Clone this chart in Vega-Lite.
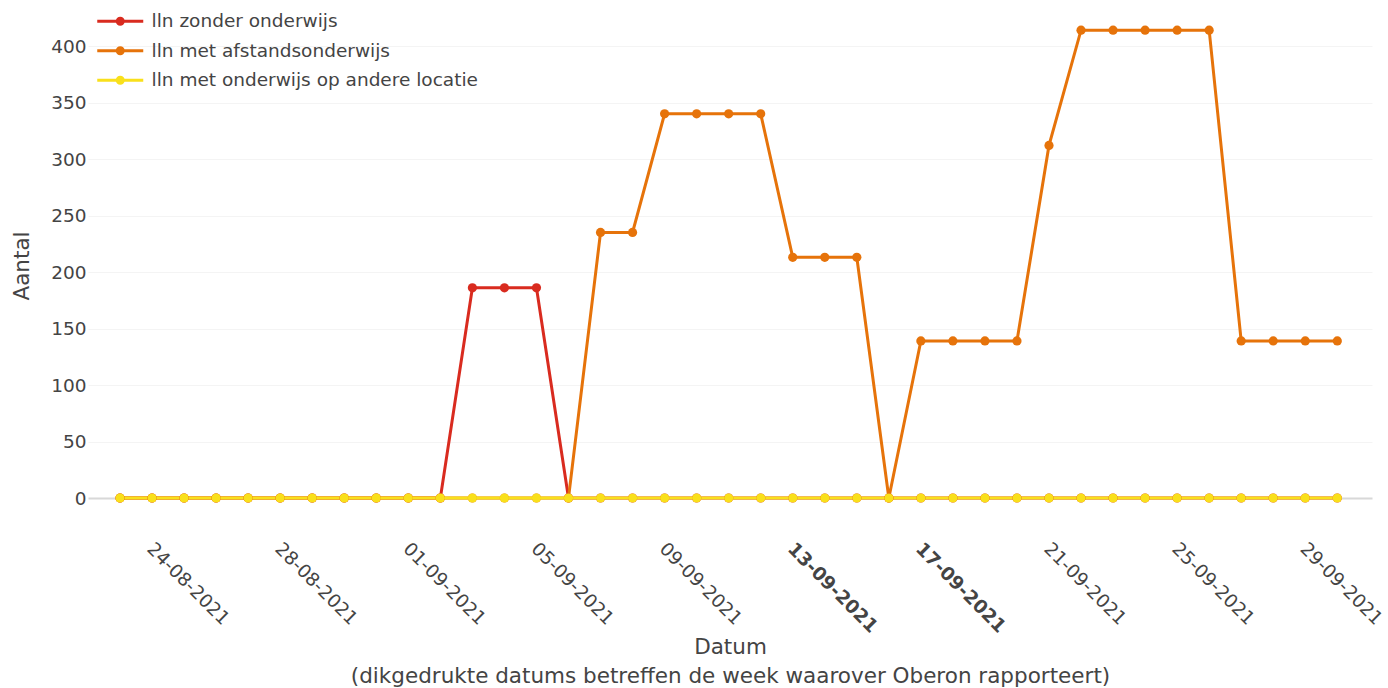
{
  "$schema": "https://vega.github.io/schema/vega-lite/v6.json",
  "width": 1284,
  "height": 511,
  "autosize": "none",
  "padding": {"left": 88, "top": 10, "right": 16, "bottom": 167},
  "background": "white",
  "config": {
    "font": "DejaVu Sans",
    "view": {"stroke": null},
    "axis": {"labelColor": "#444", "titleColor": "#444", "labelFontSize": 18.5, "titleFontSize": 21.5, "titleFontWeight": "normal"}
  },
  "data": {"values": [
    {"d":"2021-08-23","s":"lln zonder onderwijs","v":0},{"d":"2021-08-24","s":"lln zonder onderwijs","v":0},{"d":"2021-08-25","s":"lln zonder onderwijs","v":0},{"d":"2021-08-26","s":"lln zonder onderwijs","v":0},{"d":"2021-08-27","s":"lln zonder onderwijs","v":0},{"d":"2021-08-28","s":"lln zonder onderwijs","v":0},{"d":"2021-08-29","s":"lln zonder onderwijs","v":0},{"d":"2021-08-30","s":"lln zonder onderwijs","v":0},{"d":"2021-08-31","s":"lln zonder onderwijs","v":0},{"d":"2021-09-01","s":"lln zonder onderwijs","v":0},{"d":"2021-09-02","s":"lln zonder onderwijs","v":0},{"d":"2021-09-03","s":"lln zonder onderwijs","v":186},{"d":"2021-09-04","s":"lln zonder onderwijs","v":186},{"d":"2021-09-05","s":"lln zonder onderwijs","v":186},{"d":"2021-09-06","s":"lln zonder onderwijs","v":0},{"d":"2021-09-07","s":"lln zonder onderwijs","v":0},{"d":"2021-09-08","s":"lln zonder onderwijs","v":0},{"d":"2021-09-09","s":"lln zonder onderwijs","v":0},{"d":"2021-09-10","s":"lln zonder onderwijs","v":0},{"d":"2021-09-11","s":"lln zonder onderwijs","v":0},{"d":"2021-09-12","s":"lln zonder onderwijs","v":0},{"d":"2021-09-13","s":"lln zonder onderwijs","v":0},{"d":"2021-09-14","s":"lln zonder onderwijs","v":0},{"d":"2021-09-15","s":"lln zonder onderwijs","v":0},{"d":"2021-09-16","s":"lln zonder onderwijs","v":0},{"d":"2021-09-17","s":"lln zonder onderwijs","v":0},{"d":"2021-09-18","s":"lln zonder onderwijs","v":0},{"d":"2021-09-19","s":"lln zonder onderwijs","v":0},{"d":"2021-09-20","s":"lln zonder onderwijs","v":0},{"d":"2021-09-21","s":"lln zonder onderwijs","v":0},{"d":"2021-09-22","s":"lln zonder onderwijs","v":0},{"d":"2021-09-23","s":"lln zonder onderwijs","v":0},{"d":"2021-09-24","s":"lln zonder onderwijs","v":0},{"d":"2021-09-25","s":"lln zonder onderwijs","v":0},{"d":"2021-09-26","s":"lln zonder onderwijs","v":0},{"d":"2021-09-27","s":"lln zonder onderwijs","v":0},{"d":"2021-09-28","s":"lln zonder onderwijs","v":0},{"d":"2021-09-29","s":"lln zonder onderwijs","v":0},{"d":"2021-09-30","s":"lln zonder onderwijs","v":0},
    {"d":"2021-08-23","s":"lln met afstandsonderwijs","v":0},{"d":"2021-08-24","s":"lln met afstandsonderwijs","v":0},{"d":"2021-08-25","s":"lln met afstandsonderwijs","v":0},{"d":"2021-08-26","s":"lln met afstandsonderwijs","v":0},{"d":"2021-08-27","s":"lln met afstandsonderwijs","v":0},{"d":"2021-08-28","s":"lln met afstandsonderwijs","v":0},{"d":"2021-08-29","s":"lln met afstandsonderwijs","v":0},{"d":"2021-08-30","s":"lln met afstandsonderwijs","v":0},{"d":"2021-08-31","s":"lln met afstandsonderwijs","v":0},{"d":"2021-09-01","s":"lln met afstandsonderwijs","v":0},{"d":"2021-09-02","s":"lln met afstandsonderwijs","v":0},{"d":"2021-09-03","s":"lln met afstandsonderwijs","v":0},{"d":"2021-09-04","s":"lln met afstandsonderwijs","v":0},{"d":"2021-09-05","s":"lln met afstandsonderwijs","v":0},{"d":"2021-09-06","s":"lln met afstandsonderwijs","v":0},{"d":"2021-09-07","s":"lln met afstandsonderwijs","v":235},{"d":"2021-09-08","s":"lln met afstandsonderwijs","v":235},{"d":"2021-09-09","s":"lln met afstandsonderwijs","v":340},{"d":"2021-09-10","s":"lln met afstandsonderwijs","v":340},{"d":"2021-09-11","s":"lln met afstandsonderwijs","v":340},{"d":"2021-09-12","s":"lln met afstandsonderwijs","v":340},{"d":"2021-09-13","s":"lln met afstandsonderwijs","v":213},{"d":"2021-09-14","s":"lln met afstandsonderwijs","v":213},{"d":"2021-09-15","s":"lln met afstandsonderwijs","v":213},{"d":"2021-09-16","s":"lln met afstandsonderwijs","v":0},{"d":"2021-09-17","s":"lln met afstandsonderwijs","v":139},{"d":"2021-09-18","s":"lln met afstandsonderwijs","v":139},{"d":"2021-09-19","s":"lln met afstandsonderwijs","v":139},{"d":"2021-09-20","s":"lln met afstandsonderwijs","v":139},{"d":"2021-09-21","s":"lln met afstandsonderwijs","v":312},{"d":"2021-09-22","s":"lln met afstandsonderwijs","v":414},{"d":"2021-09-23","s":"lln met afstandsonderwijs","v":414},{"d":"2021-09-24","s":"lln met afstandsonderwijs","v":414},{"d":"2021-09-25","s":"lln met afstandsonderwijs","v":414},{"d":"2021-09-26","s":"lln met afstandsonderwijs","v":414},{"d":"2021-09-27","s":"lln met afstandsonderwijs","v":139},{"d":"2021-09-28","s":"lln met afstandsonderwijs","v":139},{"d":"2021-09-29","s":"lln met afstandsonderwijs","v":139},{"d":"2021-09-30","s":"lln met afstandsonderwijs","v":139},
    {"d":"2021-08-23","s":"lln met onderwijs op andere locatie","v":0},{"d":"2021-08-24","s":"lln met onderwijs op andere locatie","v":0},{"d":"2021-08-25","s":"lln met onderwijs op andere locatie","v":0},{"d":"2021-08-26","s":"lln met onderwijs op andere locatie","v":0},{"d":"2021-08-27","s":"lln met onderwijs op andere locatie","v":0},{"d":"2021-08-28","s":"lln met onderwijs op andere locatie","v":0},{"d":"2021-08-29","s":"lln met onderwijs op andere locatie","v":0},{"d":"2021-08-30","s":"lln met onderwijs op andere locatie","v":0},{"d":"2021-08-31","s":"lln met onderwijs op andere locatie","v":0},{"d":"2021-09-01","s":"lln met onderwijs op andere locatie","v":0},{"d":"2021-09-02","s":"lln met onderwijs op andere locatie","v":0},{"d":"2021-09-03","s":"lln met onderwijs op andere locatie","v":0},{"d":"2021-09-04","s":"lln met onderwijs op andere locatie","v":0},{"d":"2021-09-05","s":"lln met onderwijs op andere locatie","v":0},{"d":"2021-09-06","s":"lln met onderwijs op andere locatie","v":0},{"d":"2021-09-07","s":"lln met onderwijs op andere locatie","v":0},{"d":"2021-09-08","s":"lln met onderwijs op andere locatie","v":0},{"d":"2021-09-09","s":"lln met onderwijs op andere locatie","v":0},{"d":"2021-09-10","s":"lln met onderwijs op andere locatie","v":0},{"d":"2021-09-11","s":"lln met onderwijs op andere locatie","v":0},{"d":"2021-09-12","s":"lln met onderwijs op andere locatie","v":0},{"d":"2021-09-13","s":"lln met onderwijs op andere locatie","v":0},{"d":"2021-09-14","s":"lln met onderwijs op andere locatie","v":0},{"d":"2021-09-15","s":"lln met onderwijs op andere locatie","v":0},{"d":"2021-09-16","s":"lln met onderwijs op andere locatie","v":0},{"d":"2021-09-17","s":"lln met onderwijs op andere locatie","v":0},{"d":"2021-09-18","s":"lln met onderwijs op andere locatie","v":0},{"d":"2021-09-19","s":"lln met onderwijs op andere locatie","v":0},{"d":"2021-09-20","s":"lln met onderwijs op andere locatie","v":0},{"d":"2021-09-21","s":"lln met onderwijs op andere locatie","v":0},{"d":"2021-09-22","s":"lln met onderwijs op andere locatie","v":0},{"d":"2021-09-23","s":"lln met onderwijs op andere locatie","v":0},{"d":"2021-09-24","s":"lln met onderwijs op andere locatie","v":0},{"d":"2021-09-25","s":"lln met onderwijs op andere locatie","v":0},{"d":"2021-09-26","s":"lln met onderwijs op andere locatie","v":0},{"d":"2021-09-27","s":"lln met onderwijs op andere locatie","v":0},{"d":"2021-09-28","s":"lln met onderwijs op andere locatie","v":0},{"d":"2021-09-29","s":"lln met onderwijs op andere locatie","v":0},{"d":"2021-09-30","s":"lln met onderwijs op andere locatie","v":0}
  ]},
  "encoding": {
    "x": {
      "field": "d", "type": "temporal",
      "scale": {"type": "utc", "domain": [{"year": 2021, "month": 8, "date": 22, "utc": true}, {"year": 2021, "month": 10, "date": 1, "hours": 2, "utc": true}]},
      "axis": {
        "values": [
          {"year": 2021, "month": 8, "date": 24, "utc": true},
          {"year": 2021, "month": 8, "date": 28, "utc": true},
          {"year": 2021, "month": 9, "date": 1, "utc": true},
          {"year": 2021, "month": 9, "date": 5, "utc": true},
          {"year": 2021, "month": 9, "date": 9, "utc": true},
          {"year": 2021, "month": 9, "date": 13, "utc": true},
          {"year": 2021, "month": 9, "date": 17, "utc": true},
          {"year": 2021, "month": 9, "date": 21, "utc": true},
          {"year": 2021, "month": 9, "date": 25, "utc": true},
          {"year": 2021, "month": 9, "date": 29, "utc": true}
        ],
        "labelExpr": "utcFormat(datum.value, '%d-%m-%Y')",
        "labelAngle": 45, "labelAlign": "left", "labelBaseline": "top", "labelPadding": 18, "labelOffset": 4,
        "labelFontWeight": {"condition": {"test": "utcdate(datum.value) == 13 || utcdate(datum.value) == 17", "value": "bold"}, "value": "normal"},
        "labelOverlap": false, "labelBound": false, "labelFlush": false, "labelLimit": 400,
        "domain": false, "ticks": false, "grid": false,
        "title": ["Datum", "(dikgedrukte datums betreffen de week waarover Oberon rapporteert)"],
        "titleLineHeight": 29, "titlePadding": 1
      }
    },
    "y": {
      "field": "v", "type": "quantitative",
      "scale": {"domain": [-20.35, 431.86], "nice": false, "zero": false},
      "axis": {
        "values": [0, 50, 100, 150, 200, 250, 300, 350, 400],
        "domain": false, "ticks": false, "labelPadding": 2,
        "gridColor": {"condition": {"test": "datum.value === 0", "value": "#d8d8d8"}, "value": "#f4f4f4"},
        "gridWidth": {"condition": {"test": "datum.value === 0", "value": 2}, "value": 1},
        "title": "Aantal", "titlePadding": 17
      }
    },
    "color": {
      "field": "s", "type": "nominal",
      "scale": {"domain": ["lln zonder onderwijs", "lln met afstandsonderwijs", "lln met onderwijs op andere locatie"], "range": ["#d92b1f", "#e6730a", "#f9e01b"]},
      "legend": {
        "title": null, "orient": "none", "legendX": 23, "legendY": 2, "padding": 0,
        "direction": "vertical",
        "symbolType": "M-4.6,0L4.6,0M-0.6,0A0.6,0.6,0,1,0,0.6,0A0.6,0.6,0,1,0,-0.6,0M-0.2,0A0.2,0.2,0,1,0,0.2,0A0.2,0.2,0,1,0,-0.2,0",
        "symbolSize": 100, "symbolStrokeWidth": 3,
        "labelFontSize": 18.5, "labelColor": "#444", "labelOffset": 22, "labelLimit": 600, "rowPadding": 10.5
      }
    }
  },
  "layer": [
    {"mark": {"type": "line", "strokeWidth": 3}},
    {"mark": {"type": "point", "filled": true, "size": 85, "opacity": 1}}
  ]
}
